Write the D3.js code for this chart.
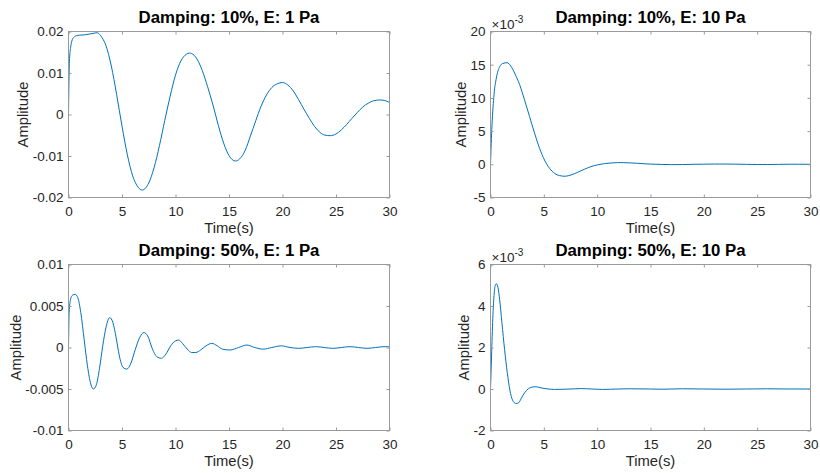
<!DOCTYPE html>
<html>
<head>
<meta charset="utf-8">
<script src="https://cdn.jsdelivr.net/npm/d3@7"></script>
<style>
  body { margin: 0; background: #fff; }
  svg { display: block; font-family: "Liberation Sans", Arial, Helvetica, sans-serif; }
</style>
</head>
<body>
<svg id="chart" width="820" height="473"></svg>
<script>
// ---- data -------------------------------------------------------------
const panelTitles = [
  "Damping: 10%, E: 1 Pa",
  "Damping: 10%, E: 10 Pa",
  "Damping: 50%, E: 1 Pa",
  "Damping: 50%, E: 10 Pa"
];
const xLabel = "Time(s)";
const yLabel = "Amplitude";

const timeTicks = [0, 5, 10, 15, 20, 25, 30];
const timeTickLabels = ["0", "5", "10", "15", "20", "25", "30"];

// Damping 10 %, E = 1 Pa
const tDamp10E1 = [0,0.05,0.1,0.2,0.35,0.5,0.75,1,1.5,2,2.5,2.7,3,3.5,4,4.5,5,5.5,6,6.5,6.9,7.5,8,8.5,9,9.5,10,10.5,11,11.3,11.5,12,12.5,13,13.5,14,14.5,15,15.6,16,16.5,17,17.5,18,18.5,19,19.5,20,20.5,21,21.5,22,22.5,23,23.5,24,24.45,25,25.5,26,26.5,27,27.5,28,28.5,29.1,29.5,30];
const aDamp10E1 = [0,0.0090,0.0135,0.0162,0.0180,0.0186,0.0190,0.0191,0.0192,0.0194,0.01965,0.0197,0.0190,0.0166,0.0117,0.0048,-0.0028,-0.0097,-0.0148,-0.0175,-0.0182,-0.0165,-0.0128,-0.0075,-0.0014,0.0044,0.0095,0.0129,0.0145,0.0148,0.0147,0.0134,0.0106,0.0067,0.0023,-0.0026,-0.0069,-0.0099,-0.0112,-0.0107,-0.0087,-0.0052,-0.0015,0.0020,0.0047,0.0065,0.0074,0.0077,0.0071,0.0057,0.0036,0.0013,-0.0009,-0.0029,-0.0043,-0.0050,-0.0051,-0.0047,-0.0037,-0.0024,-0.0009,0.0005,0.0018,0.0027,0.0033,0.0035,0.0034,0.0029];
const yTicks10E1 = [-0.02, -0.01, 0, 0.01, 0.02];
const yTickLabels10E1 = ["-0.02", "-0.01", "0", "0.01", "0.02"];

// Damping 10 %, E = 10 Pa
const tDamp10E10 = [0,0.14,0.33,0.55,0.86,1.17,1.55,1.9,2.3,2.73,3.19,3.66,4.13,4.6,5.06,5.53,6.0,6.46,7.0,7.55,8.18,8.8,9.42,10.05,10.68,11.3,11.9,12.5,13.2,13.8,14.4,15,16,17,18,19,20,21,22,23,24,25,26,27,28,29,30];
const aDamp10E10 = [0,0.0059,0.0105,0.0130,0.0147,0.0152,0.0153,0.0148,0.0136,0.0120,0.0097,0.0072,0.0047,0.0024,0.00065,-0.0006,-0.00136,-0.0017,-0.0018,-0.0016,-0.0012,-0.00075,-0.00035,-0.00008,0.0001,0.0002,0.00025,0.00025,0.0002,0.00015,0.00008,0.00003,-0.00002,-0.00005,-0.00004,0,0.00002,0.00004,0.00004,0.00002,-0.00001,-0.00003,-0.00003,-0.00001,0.00001,0.00001,0];
const yTicks10E10 = [-0.005, 0, 0.005, 0.01, 0.015, 0.02];
const yTickLabels10E10 = ["-5", "0", "5", "10", "15", "20"];

// Damping 50 %, E = 1 Pa
const tDamp50E1 = [0,0.06,0.19,0.37,0.62,0.87,1.15,1.46,1.77,2.08,2.33,2.6,2.9,3.2,3.5,3.85,4.15,4.45,4.75,5.1,5.45,5.8,6.25,6.65,7.05,7.4,7.85,8.25,8.68,9.1,9.55,10.0,10.3,10.65,11.1,11.5,11.9,12.35,12.85,13.4,13.9,14.4,15.1,15.9,16.67,17.4,18.2,19.0,19.9,20.7,21.5,22.3,23.1,23.9,24.7,25.5,26.3,27.1,27.9,28.7,29.5,30];
const aDamp50E1 = [0,0.0042,0.0058,0.0063,0.0064,0.0060,0.0042,0.0010,-0.0022,-0.0044,-0.0050,-0.0045,-0.0025,0.0002,0.0024,0.0036,0.0030,0.0012,-0.0010,-0.0024,-0.0026,-0.0020,-0.0002,0.0012,0.0018,0.0014,-0.0002,-0.0011,-0.0013,-0.0008,0.0002,0.0008,0.0009,0.0005,-0.0002,-0.0006,-0.0006,-0.0003,0.0002,0.0005,0.0002,-0.0002,-0.0003,0,0.0003,0,-0.0002,0,0.0002,0,-0.0001,0,0.0001,0,-0.0001,0,0.0001,0,-0.0001,0,0.0001,0.00008];
const yTicks50E1 = [-0.01, -0.005, 0, 0.005, 0.01];
const yTickLabels50E1 = ["-0.01", "-0.005", "0", "0.005", "0.01"];

// Damping 50 %, E = 10 Pa
const tDamp50E10 = [0,0.08,0.2,0.33,0.45,0.56,0.7,0.86,1.07,1.32,1.57,1.82,2.07,2.4,2.65,2.9,3.2,3.57,3.97,4.25,4.75,5.4,6,7,8,8.5,9.5,10.5,12,13,15,16,18,20,22,24,26,28,30];
const aDamp50E10 = [0,0.0013,0.0032,0.0045,0.0050,0.00507,0.0049,0.0043,0.0032,0.0019,0.0008,-0.00006,-0.00054,-0.0007,-0.00066,-0.00043,-0.00018,0.00002,0.0001,0.00011,0.00005,0,-0.00002,-0.00001,0.00001,0.00002,0,-0.00002,0,0.00001,0,-0.00001,0.00001,0,-0.00001,0,0.00001,0,0];
const yTicks50E10 = [-0.002, 0, 0.002, 0.004, 0.006];
const yTickLabels50E10 = ["-2", "0", "2", "4", "6"];

// ---- panels -----------------------------------------------------------
const panels = [
  { title: panelTitles[0], t: tDamp10E1,  a: aDamp10E1,  yTicks: yTicks10E1,  yLabels: yTickLabels10E1,  exponent: null },
  { title: panelTitles[1], t: tDamp10E10, a: aDamp10E10, yTicks: yTicks10E10, yLabels: yTickLabels10E10, exponent: "-3" },
  { title: panelTitles[2], t: tDamp50E1,  a: aDamp50E1,  yTicks: yTicks50E1,  yLabels: yTickLabels50E1,  exponent: null },
  { title: panelTitles[3], t: tDamp50E10, a: aDamp50E10, yTicks: yTicks50E10, yLabels: yTickLabels50E10, exponent: "-3" }
];

// axes boxes in pixels
const boxes = [
  { left: 68.5,  right: 389.5, top: 31.5,  bottom: 197.5 },
  { left: 490.5, right: 810.5, top: 31.5,  bottom: 197.5 },
  { left: 68.5,  right: 389.5, top: 264.5, bottom: 430.5 },
  { left: 490.5, right: 810.5, top: 264.5, bottom: 430.5 }
];

const LINE_COLOR = "#0072BD";
const AXIS_COLOR = "#262626";
const BOX_COLOR = "#9a9a9a";
const TICK_FONT = 13.5;
const LABEL_FONT = 14.8;
const TITLE_FONT = 16.8;

const svg = d3.select("#chart");

function styleAxis(g) {
  g.select(".domain").remove();
  g.attr("font-family", null).attr("font-size", null);
  g.selectAll(".tick line").attr("stroke", BOX_COLOR);
  g.selectAll(".tick text")
    .attr("fill", AXIS_COLOR)
    .style("font-size", TICK_FONT + "px");
}

panels.forEach((p, i) => {
  const b = boxes[i];
  const x = d3.scaleLinear().domain([0, 30]).range([b.left, b.right]);
  const y = d3.scaleLinear().domain([p.yTicks[0], p.yTicks[p.yTicks.length - 1]]).range([b.bottom, b.top]);
  const g = svg.append("g");

  // response curve
  const pts = p.t.map((t, k) => [t, p.a[k]]);
  g.append("path")
    .datum(pts)
    .attr("fill", "none")
    .attr("stroke", LINE_COLOR)
    .attr("stroke-width", 1)
    .attr("d", d3.line().x(d => x(d[0])).y(d => y(d[1])).curve(d3.curveMonotoneX));

  // bottom axis
  g.append("g")
    .attr("transform", `translate(0,${b.bottom})`)
    .call(d3.axisBottom(x).tickValues(timeTicks).tickFormat((d, k) => timeTickLabels[k]).tickSize(-3).tickPadding(9))
    .call(styleAxis);
  // top ticks
  g.append("g")
    .attr("transform", `translate(0,${b.top})`)
    .call(d3.axisTop(x).tickValues(timeTicks).tickFormat("").tickSize(-3))
    .call(styleAxis);
  // left axis
  const yg = g.append("g")
    .attr("transform", `translate(${b.left},0)`)
    .call(d3.axisLeft(y).tickValues(p.yTicks).tickFormat((d, k) => p.yLabels[k]).tickSize(-3).tickPadding(5))
    .call(styleAxis);
  // right ticks
  g.append("g")
    .attr("transform", `translate(${b.right},0)`)
    .call(d3.axisRight(y).tickValues(p.yTicks).tickFormat("").tickSize(-3))
    .call(styleAxis);

  // box
  g.append("rect")
    .attr("x", b.left).attr("y", b.top)
    .attr("width", b.right - b.left).attr("height", b.bottom - b.top)
    .attr("fill", "none").attr("stroke", BOX_COLOR).attr("stroke-width", 1);

  // title
  g.append("text")
    .attr("x", (b.left + b.right) / 2)
    .attr("y", b.top - 9)
    .attr("text-anchor", "middle")
    .attr("font-weight", "bold")
    .attr("fill", "#000")
    .style("font-size", TITLE_FONT + "px")
    .text(p.title);

  // x label
  g.append("text")
    .attr("x", (b.left + b.right) / 2)
    .attr("y", b.bottom + 35.5)
    .attr("text-anchor", "middle")
    .attr("fill", AXIS_COLOR)
    .style("font-size", LABEL_FONT + "px")
    .text(xLabel);

  // y label, placed just outside the widest tick label
  const bb = yg.node().getBBox();
  const lx = b.left + bb.x - 4.3;
  const ly = (b.top + b.bottom) / 2;
  g.append("text")
    .attr("transform", `translate(${lx},${ly}) rotate(-90)`)
    .attr("text-anchor", "middle")
    .attr("fill", AXIS_COLOR)
    .style("font-size", LABEL_FONT + "px")
    .text(yLabel);

  // exponent multiplier
  if (p.exponent) {
    const ex = g.append("text")
      .attr("x", b.left + 1)
      .attr("y", b.top - 3)
      .attr("fill", AXIS_COLOR)
      .style("font-size", TICK_FONT + "px");
    ex.append("tspan").text("\u00d710");
    ex.append("tspan").attr("dy", -6).style("font-size", "10px").text(p.exponent);
  }
});
</script>
</body>
</html>
